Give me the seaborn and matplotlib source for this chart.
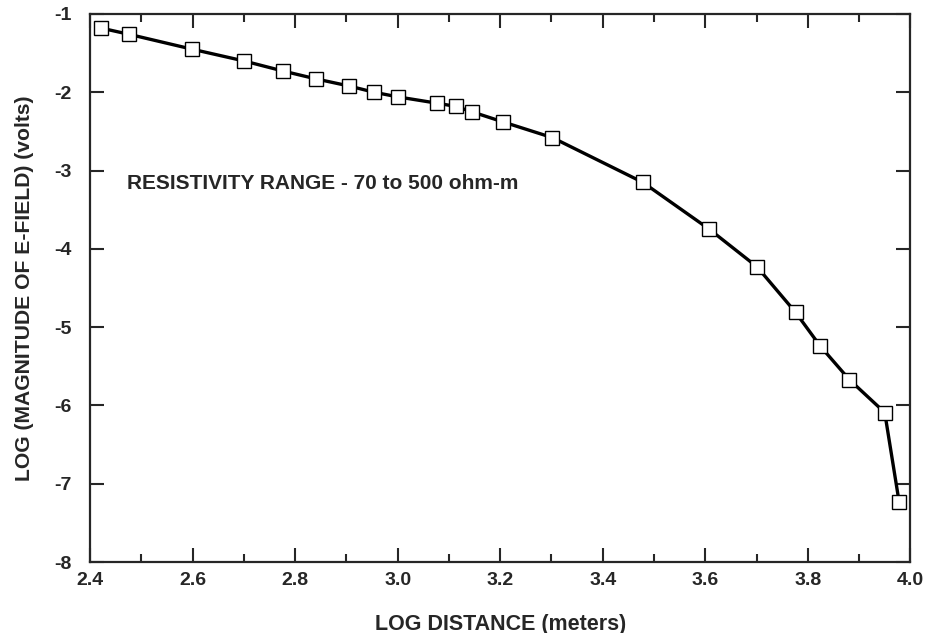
import seaborn as sns
import pandas as pd
from matplotlib import pyplot as plt
from matplotlib.ticker import MultipleLocator

# log distance (meters) and log magnitude of e-field (volts)
log_distance = [2.421, 2.476, 2.599, 2.700, 2.777, 2.841, 2.905, 2.954, 3.001,
                3.077, 3.113, 3.145, 3.206, 3.302, 3.478, 3.608, 3.701, 3.776,
                3.824, 3.881, 3.950, 3.978]
log_efield = [-1.18, -1.26, -1.45, -1.60, -1.73, -1.83, -1.92, -2.00, -2.06,
              -2.14, -2.18, -2.25, -2.38, -2.58, -3.15, -3.75, -4.23, -4.81,
              -5.24, -5.67, -6.09, -7.23]

df = pd.DataFrame({"dist": log_distance, "efield": log_efield})

sns.set_style("ticks")
plt.rcParams['font.family'] = ['Liberation Sans', 'DejaVu Sans']
plt.rcParams['font.weight'] = 'bold'

fig = plt.figure(figsize=(9.28, 6.33), dpi=100)
ax = fig.add_axes([0.097, 0.112, 0.884, 0.866])

sns.lineplot(data=df, x="dist", y="efield", ax=ax, color="black", linewidth=2.4,
             marker="s", markersize=9.5, markerfacecolor="white",
             markeredgecolor="black", markeredgewidth=1.0, sort=False)

ax.set_xlim(2.4, 4.0)
ax.set_ylim(-8, -1)
ax.xaxis.set_major_locator(MultipleLocator(0.2))
ax.xaxis.set_minor_locator(MultipleLocator(0.1))
ax.yaxis.set_major_locator(MultipleLocator(1))
ax.xaxis.set_major_formatter(plt.FormatStrFormatter('%.1f'))
ax.yaxis.set_major_formatter(plt.FormatStrFormatter('%d'))

ax.tick_params(which='both', direction='in', top=True, right=True, width=1.5,
               labelsize=14)
ax.tick_params(axis='x', pad=7)
ax.tick_params(axis='y', pad=13)
ax.tick_params(which='major', length=10)
ax.tick_params(which='minor', length=6)
for s in ax.spines.values():
    s.set_linewidth(1.6)

ax.set_xlabel("LOG DISTANCE (meters)", fontsize=15.5, fontweight='bold', labelpad=18)
ax.set_ylabel("LOG (MAGNITUDE OF E-FIELD) (volts)", fontsize=15.2, fontweight='bold', labelpad=15)

ax.text(2.472, -3.17, "RESISTIVITY RANGE - 70 to 500 ohm-m", fontsize=15,
        fontweight='bold', va='center', ha='left')

fig.savefig("out.png", dpi=100)
